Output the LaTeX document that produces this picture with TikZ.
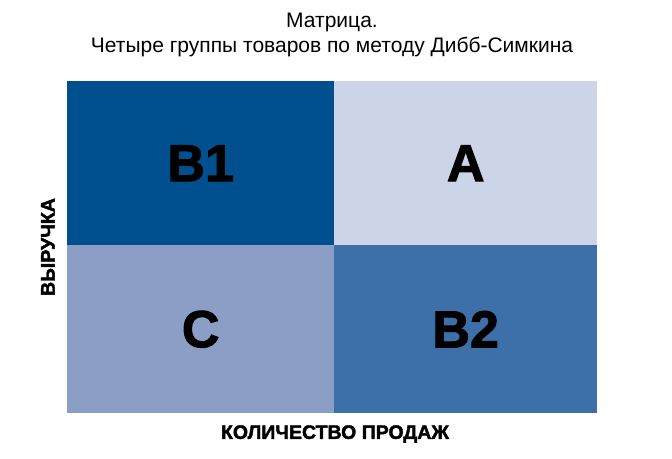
\documentclass[tikz,border=0pt]{standalone}
\usepackage{fontspec}
\setmainfont{Liberation Sans}
\newfontface\blackfont{Liberation Sans Bold}[FakeBold=2]
\definecolor{cB1}{RGB}{0,80,143}
\definecolor{cA}{RGB}{204,212,232}
\definecolor{cC}{RGB}{138,158,198}
\definecolor{cB2}{RGB}{61,111,168}
\begin{document}
\begin{tikzpicture}[x=1pt,y=-1pt,
  cell/.style={draw=none,minimum width=267pt,minimum height=164pt,inner sep=0pt,anchor=north west,font=\fontsize{52}{52}\blackfont},
  axis/.style={font=\fontsize{19.5}{19.5}\blackfont},
  ttl/.style={align=center,font=\fontsize{21}{25}\selectfont}]
\useasboundingbox (0,0) rectangle (672,458);
\node[cell,fill=cB1] (b1) at (67,81) {B1};
\node[cell,fill=cA,minimum width=263pt] (a) at (334,81) {A};
\node[cell,fill=cC,minimum height=168pt] (c) at (67,245) {C};
\node[cell,fill=cB2,minimum width=263pt,minimum height=168pt] (b2) at (334,245) {B2};
\node[ttl] (title) at (332,35) {Матрица.\\Четыре группы товаров по методу Дибб-Симкина};
\node[axis] (xl) at (335,434) {КОЛИЧЕСТВО ПРОДАЖ};
\node[axis,rotate=90] (yl) at (48,247) {ВЫРУЧКА};
\end{tikzpicture}
\end{document}
